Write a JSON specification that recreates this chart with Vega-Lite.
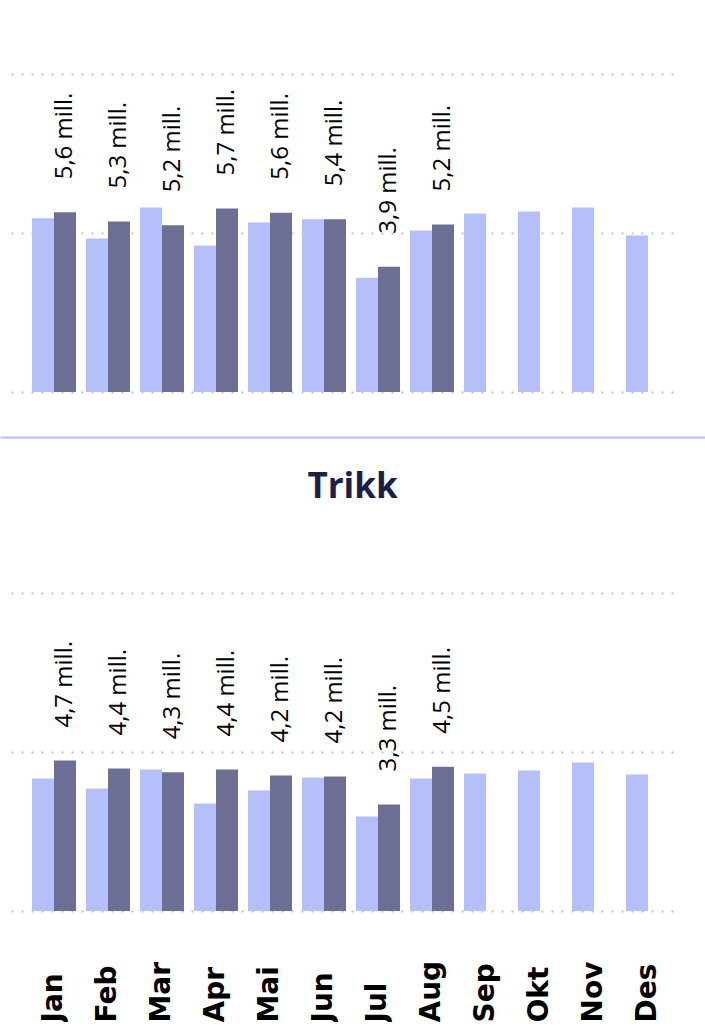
{
  "$schema": "https://vega.github.io/schema/vega-lite/v6.json",
  "padding": {"left": 0, "top": 74, "right": 0, "bottom": 0},
  "background": "white",
  "spacing": 45,
  "config": {"view": {"stroke": null}, "font": "Open Sans"},
  "datasets": {
    "d": [
      {"panel": "T-bane", "month": "Jan", "year": "2023", "v": 5.46},
      {"panel": "T-bane", "month": "Jan", "year": "2024", "v": 5.65, "label": "5,6 mill."},
      {"panel": "T-bane", "month": "Feb", "year": "2023", "v": 4.83},
      {"panel": "T-bane", "month": "Feb", "year": "2024", "v": 5.36, "label": "5,3 mill."},
      {"panel": "T-bane", "month": "Mar", "year": "2023", "v": 5.80},
      {"panel": "T-bane", "month": "Mar", "year": "2024", "v": 5.24, "label": "5,2 mill."},
      {"panel": "T-bane", "month": "Apr", "year": "2023", "v": 4.61},
      {"panel": "T-bane", "month": "Apr", "year": "2024", "v": 5.77, "label": "5,7 mill."},
      {"panel": "T-bane", "month": "Mai", "year": "2023", "v": 5.33},
      {"panel": "T-bane", "month": "Mai", "year": "2024", "v": 5.64, "label": "5,6 mill."},
      {"panel": "T-bane", "month": "Jun", "year": "2023", "v": 5.43},
      {"panel": "T-bane", "month": "Jun", "year": "2024", "v": 5.43, "label": "5,4 mill."},
      {"panel": "T-bane", "month": "Jul", "year": "2023", "v": 3.59},
      {"panel": "T-bane", "month": "Jul", "year": "2024", "v": 3.94, "label": "3,9 mill."},
      {"panel": "T-bane", "month": "Aug", "year": "2023", "v": 5.08},
      {"panel": "T-bane", "month": "Aug", "year": "2024", "v": 5.27, "label": "5,2 mill."},
      {"panel": "T-bane", "month": "Sep", "year": "2023", "v": 5.61},
      {"panel": "T-bane", "month": "Okt", "year": "2023", "v": 5.68},
      {"panel": "T-bane", "month": "Nov", "year": "2023", "v": 5.80},
      {"panel": "T-bane", "month": "Des", "year": "2023", "v": 4.92},
      {"panel": "Trikk", "month": "Jan", "year": "2023", "v": 4.17},
      {"panel": "Trikk", "month": "Jan", "year": "2024", "v": 4.73, "label": "4,7 mill."},
      {"panel": "Trikk", "month": "Feb", "year": "2023", "v": 3.85},
      {"panel": "Trikk", "month": "Feb", "year": "2024", "v": 4.48, "label": "4,4 mill."},
      {"panel": "Trikk", "month": "Mar", "year": "2023", "v": 4.45},
      {"panel": "Trikk", "month": "Mar", "year": "2024", "v": 4.36, "label": "4,3 mill."},
      {"panel": "Trikk", "month": "Apr", "year": "2023", "v": 3.38},
      {"panel": "Trikk", "month": "Apr", "year": "2024", "v": 4.45, "label": "4,4 mill."},
      {"panel": "Trikk", "month": "Mai", "year": "2023", "v": 3.79},
      {"panel": "Trikk", "month": "Mai", "year": "2024", "v": 4.26, "label": "4,2 mill."},
      {"panel": "Trikk", "month": "Jun", "year": "2023", "v": 4.20},
      {"panel": "Trikk", "month": "Jun", "year": "2024", "v": 4.23, "label": "4,2 mill."},
      {"panel": "Trikk", "month": "Jul", "year": "2023", "v": 2.97},
      {"panel": "Trikk", "month": "Jul", "year": "2024", "v": 3.35, "label": "3,3 mill."},
      {"panel": "Trikk", "month": "Aug", "year": "2023", "v": 4.17},
      {"panel": "Trikk", "month": "Aug", "year": "2024", "v": 4.54, "label": "4,5 mill."},
      {"panel": "Trikk", "month": "Sep", "year": "2023", "v": 4.32},
      {"panel": "Trikk", "month": "Okt", "year": "2023", "v": 4.42},
      {"panel": "Trikk", "month": "Nov", "year": "2023", "v": 4.67},
      {"panel": "Trikk", "month": "Des", "year": "2023", "v": 4.29}
    ],
    "t": [{"t": "Trikk"}]
  },
  "vconcat": [
    {
      "width": 670,
      "height": 318,
      "data": {"name": "d"},
      "transform": [{"filter": "datum.panel == 'T-bane'"}],
      "encoding": {
        "x": {"field": "month", "type": "nominal", "sort": ["Jan","Feb","Mar","Apr","Mai","Jun","Jul","Aug","Sep","Okt","Nov","Des"],
              "scale": {"paddingInner": 0.185, "paddingOuter": 0.296, "align": 0.656}, "axis": null},
        "xOffset": {"field": "year", "type": "nominal", "sort": ["2023","2024"], "scale": {"paddingInner": 0, "paddingOuter": 0}},
        "y": {"field": "v", "type": "quantitative", "scale": {"domain": [0, 10], "nice": false},
              "axis": {"title": null, "labels": false, "ticks": false, "domain": false, "grid": true, "values": [0, 5, 10],
                       "minExtent": 11, "maxExtent": 11, "gridColor": "#c4c4c4", "gridDash": [2, 8], "gridWidth": 2}}
      },
      "layer": [
        {
          "mark": {"type": "bar"},
          "encoding": {
            "color": {"field": "year", "type": "nominal", "scale": {"domain": ["2023","2024"], "range": ["#b5c0fb", "#6c6f93"]}, "legend": null}
          }
        },
        {
          "transform": [{"filter": "isValid(datum.label)"}],
          "mark": {"type": "text", "angle": 270, "align": "left", "baseline": "middle", "dx": 33, "fontSize": 24, "font": "Open Sans", "color": "#000000"},
          "encoding": {"text": {"field": "label"}}
        }
      ]
    },
    {
      "width": 694,
      "height": 111,
      "data": {"name": "t"},
      "mark": {"type": "text", "fontSize": 35, "fontWeight": "bold", "font": "Open Sans", "color": "#1c1f4a", "baseline": "middle", "dy": -6},
      "encoding": {
        "text": {"field": "t"},
        "x": {"field": "t", "type": "nominal", "scale": {"range": [-11, 694]},
              "axis": {"orient": "top", "title": null, "labels": false, "ticks": false, "grid": false,
               "domain": true, "domainColor": "#b4befa", "domainWidth": 2}}
      }
    },
    {
      "width": 670,
      "height": 318,
      "data": {"name": "d"},
      "transform": [{"filter": "datum.panel == 'Trikk'"}],
      "encoding": {
        "x": {"field": "month", "type": "nominal", "sort": ["Jan","Feb","Mar","Apr","Mai","Jun","Jul","Aug","Sep","Okt","Nov","Des"],
              "scale": {"paddingInner": 0.185, "paddingOuter": 0.296, "align": 0.656},
              "axis": {"orient": "bottom", "title": null, "labelAngle": 270, "labelAlign": "left", "labelBaseline": "middle",
                       "labelPadding": 111, "ticks": false, "domain": false, "grid": false, "labelFont": "DejaVu Sans",
                       "labelFontWeight": "bold", "labelFontSize": 28, "labelColor": "#000000", "labelOverlap": false, "labelBound": false, "labelFlush": false}},
        "xOffset": {"field": "year", "type": "nominal", "sort": ["2023","2024"], "scale": {"paddingInner": 0, "paddingOuter": 0}},
        "y": {"field": "v", "type": "quantitative", "scale": {"domain": [0, 10], "nice": false},
              "axis": {"title": null, "labels": false, "ticks": false, "domain": false, "grid": true, "values": [0, 5, 10],
                       "minExtent": 11, "maxExtent": 11, "gridColor": "#c4c4c4", "gridDash": [2, 8], "gridWidth": 2}}
      },
      "layer": [
        {
          "mark": {"type": "bar"},
          "encoding": {
            "color": {"field": "year", "type": "nominal", "scale": {"domain": ["2023","2024"], "range": ["#b5c0fb", "#6c6f93"]}, "legend": null}
          }
        },
        {
          "transform": [{"filter": "isValid(datum.label)"}],
          "mark": {"type": "text", "angle": 270, "align": "left", "baseline": "middle", "dx": 33, "fontSize": 24, "font": "Open Sans", "color": "#000000"},
          "encoding": {"text": {"field": "label"}}
        }
      ]
    }
  ]
}
